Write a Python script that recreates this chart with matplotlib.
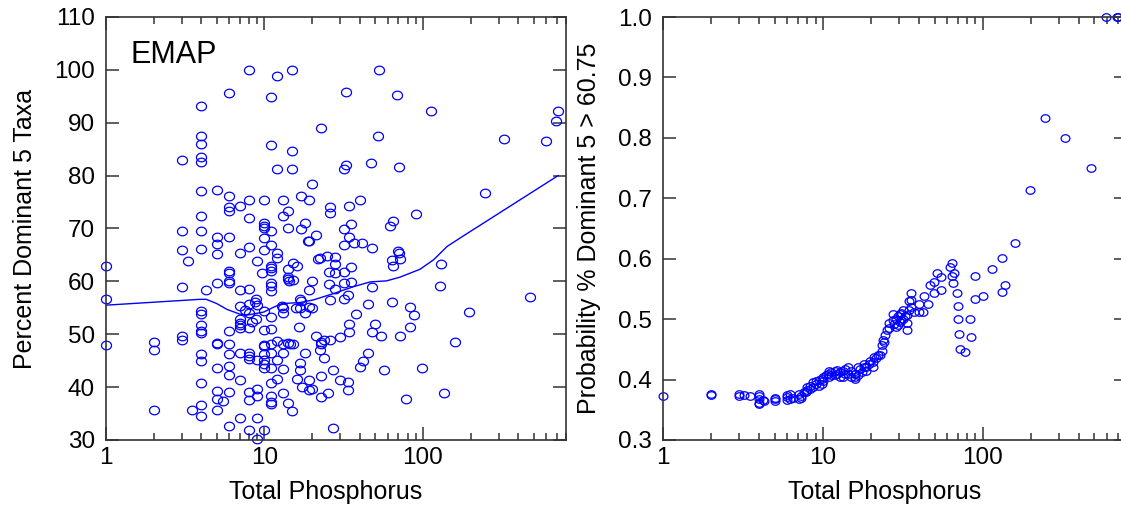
import numpy as np
import matplotlib
matplotlib.use("Agg")
import matplotlib.pyplot as plt
from matplotlib.path import Path
from matplotlib.ticker import FixedLocator, LogLocator, NullFormatter

plt.rcParams['font.family'] = ['Liberation Sans', 'DejaVu Sans']

# --- left panel: EMAP sites, total phosphorus vs percent dominant 5 taxa ---
emap_tp = [
    8.0, 12.0, 14.9, 53, 6.0, 11, 32.8, 68.5, 4.0, 112, 713, 692, 22.9, 52, 4.0, 4.0,
    11, 14.9, 325, 601, 3.0, 4.0, 4.0, 12.0, 14.9, 31.9, 32.8, 47, 71, 19.9, 245, 4.0,
    5.0, 6.0, 6.0, 6.0, 7.0, 8.0, 8.0, 9.9, 13, 14, 13, 17.1, 19, 26, 26, 34,
    39.8, 90, 4.0, 3.0, 4.0, 9.9, 9.9, 9.9, 11, 14, 17.1, 18, 21, 31.9, 35, 34,
    61.6, 65, 5, 6, 9.9, 19,
    1, 1, 1, 3.0, 3.0, 3.3, 4.0, 5, 5, 7, 8, 11, 9.9, 12, 12, 9.0,
    9.6, 11, 11, 11, 15.1, 16, 14, 14, 14, 14.3, 15.2, 11, 11, 11, 6, 6,
    6, 6, 5, 4.3, 7, 8, 18.8, 32, 36.7, 41, 47.7, 21.9, 22.5, 24.8, 28, 28,
    25.7, 28, 31.9, 35, 32, 35, 19.9, 19, 25.6, 27.7, 33.8, 26, 32, 16.8, 17, 16.8,
    15.8, 17.9, 19.2, 20, 12.9, 13, 13, 10, 8.9, 8.7, 9, 8, 7.0, 7.5, 7, 7,
    7, 7, 8.0, 8, 8.4, 8.9, 11, 9.9, 11, 6, 4, 4, 4, 4, 4, 3,
    3, 2, 2, 5, 5, 6, 4, 4, 6, 7, 8, 8, 8, 9, 9.9, 9.9,
    9.9, 9.9, 9.9, 9.9, 11, 11, 11, 12, 12, 13, 13, 14, 14.6, 15.2, 16.5, 21,
    22.8, 22.8, 23.9, 26, 22.5, 23.9, 17.9, 16.8, 16.8, 13, 12, 11, 11, 11, 11, 13,
    14, 14.9, 16, 17.2, 19, 19, 19.9, 22.8, 22.8, 25, 27, 30, 33.8, 33.8, 30, 34,
    34, 38, 39.8, 42, 45, 45, 48, 50, 48, 56.7, 54, 63.7, 64, 64.6, 69.4, 71,
    71.5, 72, 83, 88, 83, 77.7, 98.5, 129, 131, 136, 160, 194, 474, 4, 4, 4,
    3.5, 2, 5, 5, 5, 5, 5.5, 6, 6, 6, 7, 6, 7, 8, 8, 9,
    9, 8, 9, 9, 9.9, 27,
]
emap_dom5 = [
    100, 98.8, 100, 100, 95.7, 94.8, 95.8, 95.2, 93.2, 92.3, 92.2, 90.4, 89.1, 87.5, 87.5, 86.0,
    85.7, 84.7, 86.9, 86.6, 83.0, 83.6, 82.5, 81.3, 81.3, 81.3, 82.0, 82.3, 81.6, 78.4, 76.7, 77.0,
    77.2, 76.2, 74.0, 73.4, 74.2, 75.4, 72.0, 75.3, 75.4, 73.4, 72.3, 76.2, 75.3, 74.0, 73.0, 74.3,
    75.3, 72.8, 72.3, 69.6, 69.5, 71.1, 70.4, 70.1, 69.5, 70.1, 69.9, 71.0, 68.8, 69.9, 70.8, 68.4,
    70.4, 71.5, 68.3, 68.4, 68.2, 67.7,
    63.0, 56.6, 48.0, 65.9, 58.9, 63.8, 66.1, 67.1, 65.1, 65.4, 66.5, 66.9, 65.9, 65.4, 64.5, 63.8,
    61.6, 62.9, 62.5, 62.0, 63.4, 62.9, 62.3, 60.9, 60.4, 60.1, 60.3, 59.6, 59.2, 58.2, 62.0, 61.5,
    60.1, 59.6, 59.6, 58.4, 58.4, 58.6, 67.7, 66.9, 67.2, 67.2, 66.4, 64.2, 64.4, 64.8, 64.6, 63.3,
    61.8, 61.5, 61.8, 62.7, 59.6, 59.9, 60.1, 58.4, 59.5, 58.5, 57.4, 56.5, 56.6, 56.6, 56.3, 54.9,
    54.9, 54.1, 55.2, 54.9, 55.3, 54.9, 54.1, 54.4, 56.6, 56.1, 55.5, 55.8, 55.4, 54.6, 52.8, 52.2,
    51.7, 51.2, 54.1, 51.1, 52.3, 52.8, 53.2, 50.8, 50.9, 50.6, 54.4, 53.9, 51.8, 50.6, 50.2, 49.6,
    48.9, 48.5, 47.0, 48.4, 48.1, 48.2, 46.3, 44.9, 46.3, 46.5, 46.5, 45.8, 45.4, 45.2, 48.0, 47.7,
    46.3, 45.1, 44.4, 43.7, 48.2, 46.5, 43.7, 48.8, 45.2, 48.2, 46.5, 48.4, 48.2, 48.2, 51.4, 49.7,
    48.6, 48.1, 48.9, 48.9, 47.0, 45.5, 46.5, 44.6, 43.3, 43.4, 41.6, 40.8, 38.3, 37.2, 36.8, 38.9,
    37.0, 35.4, 41.5, 40.0, 41.3, 39.5, 39.7, 42.1, 38.2, 38.9, 43.3, 41.3, 40.9, 39.4, 49.5, 50.4,
    52.0, 53.9, 43.8, 44.9, 46.5, 55.8, 50.4, 52.0, 58.9, 43.3, 49.7, 56.1, 64.1, 63.0, 65.8, 65.4,
    64.3, 49.7, 55.1, 53.6, 51.4, 37.8, 43.7, 59.2, 63.2, 38.9, 48.5, 54.2, 57.1, 40.8, 36.7, 34.6,
    35.7, 35.6, 43.7, 39.2, 37.7, 35.6, 37.3, 44.0, 42.3, 39.0, 41.3, 32.7, 34.2, 39.1, 37.6, 39.6,
    38.4, 31.9, 34.1, 30.2, 31.9, 32.2,
]

# smooth curve through the left panel
smooth_tp = [1, 3.9, 4.3, 5, 5.8, 7, 7.7, 9.9, 11.4, 12.9, 16.8, 20.4, 27.3, 36.5,
             46.5, 59, 71.7, 96, 117, 142, 180, 713]
smooth_dom5 = [55.5, 56.6, 56.6, 55.8, 54.7, 53.8, 53.6, 54.2, 55.1, 55.8, 56.0, 56.5, 57.7, 59.0,
               59.9, 60.1, 60.8, 62.3, 64.1, 66.6, 68.6, 80.0]

# --- right panel: probability that dominant 5 > 60.75 ---
prob_tp = [
    590, 690, 700, 247, 329, 198, 475, 160, 132, 114, 132, 138, 100, 90, 89, 83,
    84, 78, 72, 71, 70, 70.5, 69, 65, 64.7, 62.7, 66.5, 64, 55, 55, 52, 49.6,
    49.6, 45.8, 47, 43, 42.4, 40, 40, 37.3, 35.4, 35.4, 35.4, 33.5, 33.5, 33.5, 31.9, 31.9,
    30.3, 30.3, 28.7, 28.7, 27.3, 27.3, 26, 25.2, 24.6, 23.9, 23.3, 23.3, 22.7, 21.6, 20.5, 20.5,
    19.4, 18.5, 18.5, 17.5, 16.7, 16.7, 15.8, 15.8, 15, 15, 13.8, 13.8, 12.8, 12.8, 11.9, 11.9,
    11, 11, 10.4, 9.9, 9.9, 9.4, 9.4, 8.7, 8.7, 8.0, 8.0, 7.6, 7.1, 7.1, 6.2, 6.2,
    6.0, 5.0, 5.0, 4.3, 4.0, 4.0, 4.0, 3.5, 3.2, 3.0, 3.0, 2.0, 2.0, 1.0,
    4.0, 4.0, 4.2, 5.0, 6.0, 6.0, 6.5, 7.3, 7.3, 7.8, 8.3, 8.3, 9.0, 9.0, 10, 10,
    10.7, 11.3, 11.3, 12.3, 12.3, 13.3, 13.3, 14.4, 14.4, 16, 16, 17, 18, 18, 19.8, 21,
    22, 24, 25.8, 27.9, 29.5, 29.5, 31, 31, 32.7, 34.5, 34.5,
]
prob_dom5 = [
    1.0, 1.0, 1.0, 0.833, 0.80, 0.714, 0.75, 0.626, 0.601, 0.583, 0.545, 0.557, 0.539, 0.572, 0.533, 0.50,
    0.471, 0.445, 0.45, 0.476, 0.50, 0.522, 0.543, 0.56, 0.593, 0.587, 0.577, 0.572, 0.548, 0.570, 0.576, 0.562,
    0.543, 0.525, 0.556, 0.539, 0.512, 0.525, 0.512, 0.512, 0.543, 0.532, 0.52, 0.507, 0.493, 0.482, 0.515, 0.50,
    0.509, 0.496, 0.50, 0.487, 0.509, 0.498, 0.493, 0.482, 0.473, 0.465, 0.457, 0.448, 0.44, 0.435, 0.429, 0.421,
    0.426, 0.421, 0.415, 0.412, 0.421, 0.407, 0.41, 0.401, 0.415, 0.404, 0.418, 0.41, 0.412, 0.404, 0.415, 0.407,
    0.415, 0.404, 0.407, 0.401, 0.393, 0.399, 0.39, 0.396, 0.388, 0.388, 0.382, 0.379, 0.376, 0.368, 0.376, 0.368,
    0.371, 0.368, 0.365, 0.365, 0.376, 0.368, 0.36, 0.373, 0.375, 0.376, 0.373, 0.376, 0.374, 0.373,
    0.362, 0.372, 0.366, 0.37, 0.374, 0.366, 0.37, 0.372, 0.369, 0.38, 0.39, 0.385, 0.392, 0.398, 0.405, 0.398,
    0.41, 0.412, 0.408, 0.41, 0.416, 0.414, 0.405, 0.42, 0.41, 0.405, 0.41, 0.418, 0.42, 0.425, 0.43, 0.437,
    0.44, 0.463, 0.485, 0.492, 0.505, 0.49, 0.498, 0.51, 0.505, 0.515, 0.53,
]

# slightly squashed open circle, like the original plotting program
t = np.linspace(0, 2 * np.pi, 61)
oval = Path(np.column_stack([np.cos(t), 0.86 * np.sin(t)]), closed=True)

W, H = 1121, 508
fig = plt.figure(figsize=(W / 100, H / 100), dpi=100, facecolor='white')
ax1 = fig.add_axes([106 / W, 68 / H, 460 / W, 423 / H])
ax2 = fig.add_axes([663 / W, 68 / H, 464 / W, 423 / H])


def style_axes(ax):
    ax.set_xscale('log')
    ax.set_xlim(1, 800)
    ax.xaxis.set_major_locator(FixedLocator([1, 10, 100]))
    ax.set_xticklabels(['1', '10', '100'])
    ax.xaxis.set_minor_locator(LogLocator(base=10, subs=range(2, 10)))
    ax.xaxis.set_minor_formatter(NullFormatter())
    ax.tick_params(which='both', direction='in', top=True, right=True,
                   color='#333333', width=1.1, labelsize=17.5)
    ax.tick_params(which='major', length=9.5)
    ax.tick_params(which='minor', length=5)
    ax.tick_params(axis='x', pad=5)
    ax.tick_params(axis='y', pad=8)
    for s in ax.spines.values():
        s.set_color('#333333')
        s.set_linewidth(1.2)
    ax.set_xlabel('Total Phosphorus', fontsize=18)
    ax.xaxis.set_label_coords(0.478, -0.095)


# left panel
ax1.plot(emap_tp, emap_dom5, linestyle='none', marker=oval, markersize=7.2,
         markerfacecolor='none', markeredgecolor='#0000ff', markeredgewidth=0.9, clip_on=False)
ax1.plot(smooth_tp, smooth_dom5, color='#0000ff', linewidth=1.0)
style_axes(ax1)
ax1.set_ylim(30, 110)
ax1.set_yticks(np.arange(30, 111, 10))
ax1.set_ylabel('Percent Dominant 5 Taxa', fontsize=18)
ax1.yaxis.set_label_coords(-0.15, 0.5)
ax1.text(0.054, 0.891, 'EMAP', transform=ax1.transAxes, fontsize=22, va='baseline')

# right panel
ax2.plot(prob_tp, prob_dom5, linestyle='none', marker=oval, markersize=6.3,
         markerfacecolor='none', markeredgecolor='#0000ff', markeredgewidth=0.9, clip_on=False)
style_axes(ax2)
ax2.set_ylim(0.3, 1.0)
ax2.set_yticks(np.arange(0.3, 1.01, 0.1))
ax2.set_yticklabels(['%.1f' % v for v in np.arange(0.3, 1.01, 0.1)])
ax2.set_ylabel('Probability % Dominant 5 > 60.75', fontsize=18)
ax2.yaxis.set_label_coords(-0.134, 0.5)

fig.savefig('out.png', dpi=100)
